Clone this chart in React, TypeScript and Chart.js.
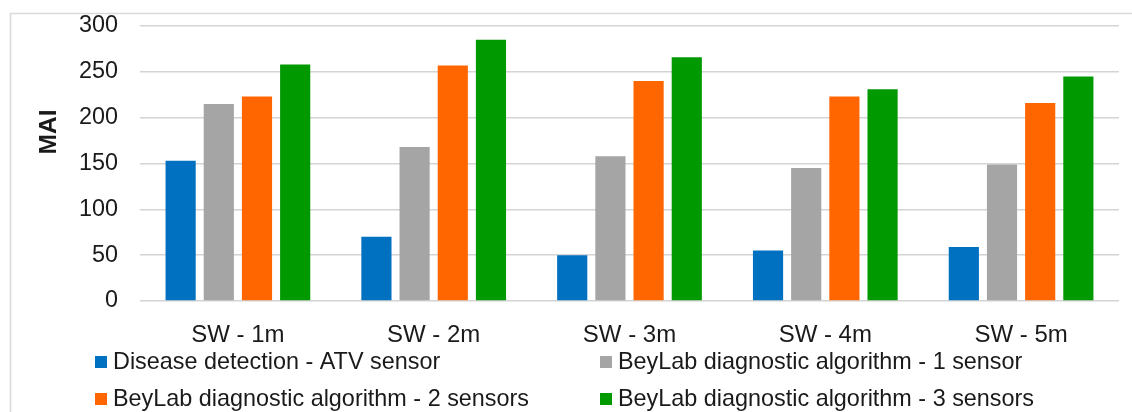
import React, { useEffect, useRef } from "react";
import { Chart, registerables } from "chart.js";

Chart.register(...registerables);

const categories = ["SW - 1m", "SW - 2m", "SW - 3m", "SW - 4m", "SW - 5m"];
const seriesNames = [
  "Disease detection - ATV sensor",
  "BeyLab diagnostic algorithm - 1 sensor",
  "BeyLab diagnostic algorithm - 2 sensors",
  "BeyLab diagnostic algorithm - 3 sensors",
];
const atvSensor = [153, 70, 50, 55, 59];
const beyLab1 = [215, 168, 158, 145, 149];
const beyLab2 = [223, 257, 240, 223, 216];
const beyLab3 = [258, 285, 266, 231, 245];
const seriesColors = ["#0070C0", "#A5A5A5", "#FF6600", "#009900"];
const yTicks = [0, 50, 100, 150, 200, 250, 300];
const yTitle = "MAI";

const FONT = "'Liberation Sans', Arial, sans-serif";
const TEXT = "#1a1a1a";

const decorPlugin = {
  id: "decor",
  beforeDraw(chart: any) {
    const ctx = chart.ctx;
    ctx.save();
    ctx.strokeStyle = "#d9d9d9";
    ctx.lineWidth = 1.5;
    ctx.strokeRect(10.5, 13.5, 1200, 500);
    ctx.restore();
  },
  afterDraw(chart: any) {
    const ctx = chart.ctx;
    ctx.save();
    ctx.fillStyle = TEXT;
    ctx.font = `bold 24.5px ${FONT}`;
    ctx.textAlign = "center";
    ctx.textBaseline = "middle";
    ctx.translate(49, 132);
    ctx.rotate(-Math.PI / 2);
    ctx.fillText(yTitle, 0, 0);
    ctx.restore();

    ctx.save();
    ctx.font = `23.4px ${FONT}`;
    ctx.textBaseline = "middle";
    ctx.textAlign = "left";
    const colX = [95, 600];
    const rowY = [362, 399];
    chart.data.datasets.forEach((ds: any, i: number) => {
      const cx = colX[i % 2];
      const cy = rowY[Math.floor(i / 2)];
      ctx.fillStyle = ds.backgroundColor;
      ctx.fillRect(cx, cy - 6, 12, 12);
      ctx.fillStyle = TEXT;
      ctx.fillText(ds.label, cx + 18, cy + 1);
    });
    ctx.restore();
  },
};

export default function App() {
  const ref = useRef<HTMLCanvasElement>(null);
  useEffect(() => {
    if (!ref.current) return;
    const seriesData = [atvSensor, beyLab1, beyLab2, beyLab3];
    const chart = new Chart(ref.current, {
      type: "bar",
      data: {
        labels: categories,
        datasets: seriesNames.map((name, i) => ({
          label: name,
          data: seriesData[i],
          backgroundColor: seriesColors[i],
          borderWidth: 0,
          barPercentage: 0.79,
          categoryPercentage: 0.78,
        })),
      },
      options: {
        responsive: false,
        animation: false,
        devicePixelRatio: 1,
        layout: { padding: { left: 0, right: 13, top: 0, bottom: 0 } },
        plugins: {
          legend: { display: false },
          tooltip: { enabled: false },
          title: { display: false },
        },
        scales: {
          x: {
            grid: { display: false },
            border: { display: false },
            ticks: {
              color: TEXT,
              font: { family: FONT, size: 24 },
              padding: 12,
              maxRotation: 0,
            },
            afterFit(scale: any) {
              scale.height = 111;
            },
          },
          y: {
            min: 0,
            max: 300,
            afterBuildTicks(scale: any) {
              scale.ticks = yTicks.map((v) => ({ value: v }));
            },
            grid: { color: "#d4d4d4", lineWidth: 1.5, drawTicks: false },
            border: { display: false },
            ticks: {
              color: TEXT,
              font: { family: FONT, size: 23.4 },
              padding: 22,
            },
            afterFit(scale: any) {
              scale.width = 140;
              scale.paddingTop = 26;
            },
          },
        },
      },
      plugins: [decorPlugin],
    });
    return () => chart.destroy();
  }, []);
  return (
    <div style={{ position: "fixed", left: 0, top: 0, width: 1132, height: 412, background: "#fff" }}>
      <canvas ref={ref} width={1132} height={412} style={{ display: "block" }} />
    </div>
  );
}
